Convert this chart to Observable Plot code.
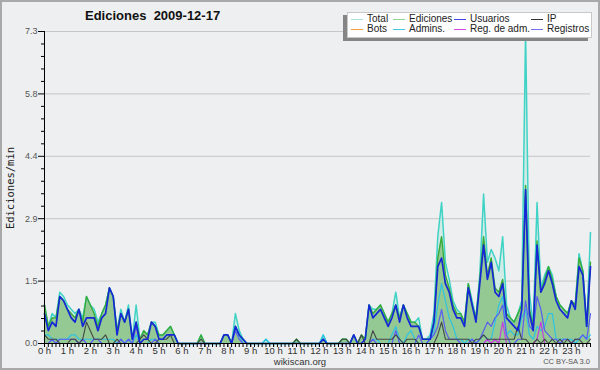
<!DOCTYPE html>
<html><head><meta charset="utf-8">
<script src="https://cdn.jsdelivr.net/npm/d3@7"></script>
<script src="https://cdn.jsdelivr.net/npm/@observablehq/plot@0.6"></script>
<style>
body{margin:0;background:#fff}
#wrap{position:relative;width:600px;height:370px;background:#eeeff0;overflow:hidden;font-family:"Liberation Sans",Arial,sans-serif}
#frame{position:absolute;left:0;top:0;width:596px;height:366px;border:2px solid #a9a9a9;pointer-events:none}
#chart{position:absolute;left:0;top:0}
#title{position:absolute;left:85px;top:8px;font-weight:bold;font-size:13px;color:#111;white-space:pre}
#ylab{position:absolute;left:10px;top:188px;transform:translate(-50%,-50%) rotate(-90deg);font-family:"DejaVu Sans Mono",monospace;font-size:10.5px;color:#222;white-space:nowrap}
#site{position:absolute;left:300px;top:357px;transform:translateX(-50%);font-size:9.5px;line-height:10px;color:#333}
#lic{position:absolute;right:10px;top:358px;font-size:7.5px;line-height:8px;color:#555}
#shadow{position:absolute;left:343px;top:15px;width:245px;height:26px;background:#858585}
#legend{position:absolute;left:347px;top:12px;width:243px;height:24px;background:#fff;border:1px solid #c8c8c8}
.li{position:absolute;font-size:10px;color:#222;white-space:nowrap;line-height:10px}
.sw{position:absolute;height:1px;width:12px}
</style></head>
<body>
<div id="wrap">
  <div id="chart"></div>
  <div id="title">Ediciones  2009-12-17</div>
  <div id="ylab">Ediciones/min</div>
  <div id="site">wikiscan.org</div>
  <div id="lic">CC BY-SA 3.0</div>
  <div id="shadow"></div>
  <div id="legend"></div>
  <div id="frame"></div>
</div>
<script>
// 10-minute samples, 0:00 .. 23:50 (edits per minute)
const total = [
0.9,0.4,0.7,0.6,1.2,1.1,0.9,0.8,0.7,0.8,0.6,1.1,
0.9,0.8,0.5,0.7,0.9,1.3,1.1,0.3,0.8,0.5,0.9,0.1,
0.9,0.1,0.3,0.2,0.5,0.5,0.2,0.2,0.3,0.4,0.2,0,
0,0,0,0,0,0.2,0,0,0,0,0,0.2,
0.2,0,0.7,0.3,0.1,0,0,0,0,0,0.1,0,
0,0,0,0,0,0,0.1,0,0,0,0,0,
0,0.2,0,0,0,0,0.1,0.1,0,0.2,0,0.2,
0.1,0.9,0.8,0.8,0.9,0.7,0.5,0.7,1.2,0.6,0.9,0.7,
0.5,0.5,0.6,0.1,0.1,0.2,0.7,2.5,3.3,1.9,1.5,1.0,
0.8,0.7,0.5,1.4,1.0,0.6,1.6,3.5,1.9,2.2,2.0,1.7,
2.5,0.9,0.6,0.5,0.7,1.0,7.3,1.2,0.4,3.3,1.3,1.6,
1.8,1.6,1.1,0.9,0.8,0.7,1.0,0.9,2.1,1.7,0.4,2.6];
const ediciones = [
0.9,0.4,0.6,0.6,1.1,1.0,0.8,0.7,0.6,0.8,0.5,1.1,
0.9,0.7,0.4,0.7,0.9,1.3,1.1,0.3,0.7,0.5,0.8,0.1,
0.5,0.1,0.3,0.2,0.5,0.4,0.2,0.2,0.3,0.4,0.2,0,
0,0,0,0,0,0.2,0,0,0,0,0,0.2,
0.2,0,0.4,0.2,0.1,0,0,0,0,0,0,0,
0,0,0,0,0,0,0.1,0,0,0,0,0,
0,0.1,0,0,0,0,0.1,0.1,0,0.2,0,0.2,
0.1,0.9,0.7,0.8,0.9,0.7,0.5,0.7,0.9,0.6,0.9,0.7,
0.5,0.5,0.4,0.1,0.1,0.1,0.5,2.0,2.5,1.6,1.3,0.9,
0.7,0.7,0.5,1.4,0.9,0.6,1.5,2.5,1.6,2.0,1.3,1.2,
1.5,0.7,0.6,0.5,0.7,0.9,3.7,0.8,0.4,2.4,1.2,1.5,
1.8,1.5,1.1,0.9,0.8,0.7,1.0,0.9,2.0,1.7,0.4,1.9];
const usuarios = [
0.7,0.3,0.5,0.4,1.1,1.0,0.8,0.6,0.5,0.8,0.4,0.6,
0.6,0.6,0.3,0.6,0.7,1.3,1.1,0.2,0.7,0.5,0.8,0.1,
0.5,0,0.1,0.1,0.5,0.4,0.1,0.1,0.2,0.2,0.2,0,
0,0,0,0,0,0,0,0,0,0,0,0.2,
0.2,0,0.4,0.2,0.1,0,0,0,0,0,0,0,
0,0,0,0,0,0,0,0,0,0,0,0,
0,0.1,0,0,0,0,0,0,0,0.2,0,0,
0.1,0.9,0.6,0.7,0.8,0.6,0.4,0.6,0.9,0.5,0.9,0.6,
0.4,0.4,0.4,0.1,0.1,0.1,0.5,1.8,2.0,1.4,1.2,0.8,
0.6,0.6,0.4,1.3,0.9,0.5,1.4,2.3,1.5,1.9,1.2,1.1,
1.4,0.6,0.5,0.4,0.3,0.8,3.6,0.7,0.3,2.3,1.2,1.4,
1.7,1.4,1.0,0.8,0.7,0.6,1.0,0.8,1.8,1.6,0.4,1.8];
const ip = [
0.2,0.1,0.1,0.1,0,0,0,0.1,0.1,0,0.1,0.5,
0.3,0.1,0.1,0.1,0.2,0,0,0.1,0,0,0,0,
0,0.1,0.2,0.1,0,0,0.1,0.1,0.1,0.2,0,0,
0,0,0,0,0,0.1,0,0,0,0,0,0,
0,0,0,0,0,0,0,0,0,0,0,0,
0,0,0,0,0,0,0.1,0,0,0,0,0,
0,0,0,0,0,0,0.1,0.1,0,0,0,0.2,
0,0,0.3,0.1,0.1,0.1,0.1,0.1,0.2,0.1,0,0.1,
0.1,0.1,0,0,0,0,0,0.2,0.5,0.1,0.1,0.1,
0.1,0.1,0.1,0.1,0,0.1,0.1,0.2,0.1,0.1,0.1,0.1,
0.1,0.1,0.1,0.1,0.4,0.1,0.1,0,0,0.1,0,0.1,
0,0.1,0,0.1,0,0.1,0,0.1,0.1,0,0,0.1];
const admins = [
0.2,0.2,0.1,0.1,0.1,0.1,0.1,0.2,0.2,0.1,0.1,0.1,
0.1,0.1,0.1,0.1,0.1,0.1,0.1,0,0.1,0,0.1,0,
0.2,0,0,0,0.1,0.1,0,0,0,0,0,0,
0,0,0,0,0,0,0,0,0,0,0,0,
0,0,0.4,0.2,0,0,0,0,0,0,0.1,0,
0,0,0,0,0,0,0,0,0,0,0,0,
0,0.2,0,0,0,0,0,0,0,0,0,0,
0,0,0.1,0.1,0,0,0,0.2,0.4,0.1,0,0.2,
0.3,0.1,0,0,0,0.1,0.3,0.9,1.4,1.0,0.6,0.4,
0.1,0.1,0,0.1,0.1,0,0.1,0.2,0.1,0.1,0.5,0.9,
1.1,0.2,0.3,0.2,0.2,0.6,0.8,0.2,0.1,0.4,0.3,0.4,
0.7,0.7,0.1,0.1,0.1,0.1,0.1,0,0.1,0.2,0.1,0.2];
const registros = [
0,0,0.1,0,0.1,0.1,0.1,0.1,0.1,0,0.1,0,
0,0.1,0.1,0,0,0,0,0,0.1,0,0.1,0,
0.4,0,0,0,0,0.1,0,0,0,0,0,0,
0,0,0,0,0,0,0,0,0,0,0,0,
0,0,0.3,0.1,0,0,0,0,0,0,0,0,
0,0,0,0,0,0,0,0,0,0,0,0,
0,0,0,0,0,0,0,0,0,0,0,0,
0,0,0.1,0,0,0,0,0,0.3,0,0,0,
0,0,0.2,0,0,0.1,0.2,0.4,0.8,0.3,0.1,0.1,
0.1,0,0,0,0.1,0,0.1,0.3,0.5,0.4,0.6,0.7,
0.9,0.2,0,0,0.1,0.1,1.0,0.4,0.3,1.1,0.8,0.3,
0.2,0.1,0.1,0,0.1,0.1,0,0.1,0.1,0.2,0.1,0.7];
const regAdm = [
0,0,0,0,0,0,0,0,0,0,0,0,
0,0,0,0,0,0,0,0,0,0,0,0,
0,0,0,0,0,0,0,0,0,0,0,0,
0,0,0,0,0,0,0,0,0,0,0,0,
0,0,0,0,0,0,0,0,0,0,0,0,
0,0,0,0,0,0,0,0,0,0,0,0,
0,0,0,0,0,0,0,0,0,0,0,0,
0,0,0,0,0,0,0,0,0,0,0,0,
0,0,0,0,0,0,0,0,0,0,0,0,
0,0,0,0,0,0,0,0,0.1,0,0.1,0,
0.5,0,0,0,0,0,0,0,0,0.1,0.5,0,
0,0,0,0,0,0,0,0,0,0,0,0];

const yMajor = [0, 1.46, 2.92, 4.38, 5.84, 7.3];
const yLabels = ["0.0","1.5","2.9","4.4","5.8","7.3"];
const hourLabels = ["0 h","1 h","2 h","3 h","4 h","5 h","6 h","7 h","8 h","9 h","10 h","11 h",
  "12 h","13 h","14 h","15 h","16 h","17 h","18 h","19 h","20 h","21 h","22 h","23 h"];
const legendNames = ["Total","Ediciones","Usuarios","IP","Bots","Admins.","Reg. de adm.","Registros"];
const legendColors = ["#a6e3e0","#8fd48f","#4343e6","#333333","#f5a040","#44cbe2","#d448e4","#7373f2"];

const rows = total.map((t, i) => ({
  h: i / 6, total: t, ediciones: ediciones[i], usuarios: usuarios[i], ip: ip[i],
  admins: admins[i], registros: registros[i], regAdm: regAdm[i]
}));
const hours = hourLabels.map((_, i) => i);
const xMinor = total.map((_, i) => i / 6);
const yMinor = [];
for (let k = 0; k < yMajor.length - 1; k++)
  for (let j = 1; j < 5; j++) yMinor.push(yMajor[k] + (yMajor[k + 1] - yMajor[k]) * j / 5);

const line = (y, stroke, w) => Plot.lineY(rows, {x: "h", y, stroke, strokeWidth: w});

const chart = Plot.plot({
  width: 600, height: 370,
  marginLeft: 44, marginRight: 10, marginTop: 31, marginBottom: 27,
  style: {background: "transparent", overflow: "visible", fontFamily: "Liberation Sans, Arial, sans-serif"},
  x: {domain: [0, 143 / 6], axis: null, label: null},
  y: {domain: [0, 7.3], axis: null, label: null},
  marks: [
    Plot.ruleY(yMajor.slice(1), {stroke: "#c6c6c6", strokeWidth: 1}),
    Plot.areaY(rows, {x: "h", y: "total", fill: "#d3ebe6"}),
    Plot.areaY(rows, {x: "h", y: "ediciones", fill: "#94c994"}),
    line("total", "#3fd3c6", 1.5),
    line("ediciones", "#38ab38", 1.4),
    line("admins", "#2ec3e2", 1.2),
    line("registros", "#5a5cf2", 1.2),
    line("regAdm", "#c33ee0", 1.2),
    line("ip", "#454545", 1.1),
    line("usuarios", "#1428d6", 1.7),
    Plot.ruleY([0], {stroke: "#000"}),
    Plot.ruleX([0], {stroke: "#000"}),
    Plot.axisY({ticks: yMinor, tickSize: 3, tickFormat: () => "", label: null, stroke: "#000"}),
    Plot.axisY({ticks: yMajor, tickSize: 6, tickPadding: 1, label: null, stroke: "#000", fill: "#555",
      fontSize: 9, tickFormat: d => yLabels[yMajor.indexOf(d)]}),
    Plot.axisX({ticks: xMinor, tickSize: 4, tickFormat: () => "", label: null, stroke: "#000"}),
    Plot.axisX({ticks: hours, tickSize: 4, tickPadding: 0, label: null, stroke: "#000", fill: "#333",
      fontSize: 9.5, tickFormat: d => hourLabels[d]})
  ]
});
document.getElementById("chart").append(chart);

// legend
const lg = document.getElementById("legend");
const colX = [3, 45, 106, 183];
legendNames.forEach((name, i) => {
  const col = i % 4, row = Math.floor(i / 4);
  const sw = document.createElement("div");
  sw.className = "sw";
  sw.style.left = colX[col] + "px";
  sw.style.top = (row === 0 ? 6 : 16) + "px";
  sw.style.background = legendColors[i];
  const t = document.createElement("div");
  t.className = "li";
  t.textContent = name;
  t.style.left = (colX[col] + 16) + "px";
  t.style.top = (row === 0 ? 1 : 11) + "px";
  lg.append(sw, t);
});
</script>
</body></html>
